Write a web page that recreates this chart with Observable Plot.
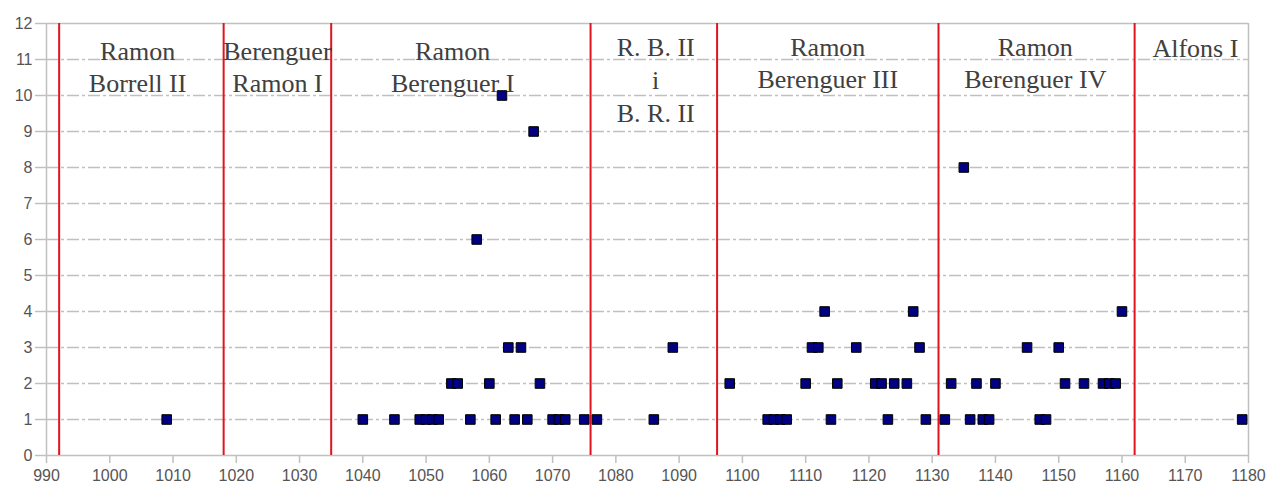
<!DOCTYPE html>
<html>
<head>
<meta charset="utf-8">
<script src="https://cdn.jsdelivr.net/npm/d3@7"></script>
<script src="https://cdn.jsdelivr.net/npm/@observablehq/plot@0.6"></script>
<style>
  html, body { margin: 0; padding: 0; background: #fff; }
  #chart svg { display: block; }
</style>
</head>
<body>
<div id="chart"></div>
<script>
// Years with a given number of documents (value on the y axis)
const yearsWith1 = [1009, 1040, 1045, 1049, 1050, 1051, 1052, 1057, 1061, 1064, 1066, 1070, 1071, 1072, 1075, 1077, 1086,
  1104, 1105, 1106, 1107, 1114, 1123, 1129, 1132, 1136, 1138, 1139, 1147, 1148, 1179];
const yearsWith2 = [1054, 1055, 1060, 1068, 1098, 1110, 1115, 1121, 1122, 1124, 1126, 1133, 1137, 1140, 1151, 1154, 1157, 1158, 1159];
const yearsWith3 = [1063, 1065, 1089, 1111, 1112, 1118, 1128, 1145, 1150];
const yearsWith4 = [1113, 1127, 1160];
const yearsWith6 = [1058];
const yearsWith8 = [1135];
const yearsWith9 = [1067];
const yearsWith10 = [1062];

// Reign boundaries (red lines) and count labels
const reignBoundaries = [992, 1018, 1035, 1076, 1096, 1131, 1162];
const reignNames = ["Ramon\nBorrell II", "Berenguer\nRamon I", "Ramon\nBerenguer I", "R. B. II\ni\nB. R. II",
  "Ramon\nBerenguer III", "Ramon\nBerenguer IV", "Alfons I"];
const reignLabelYears = [1004.4, 1026.5, 1054.2, 1086.3, 1113.5, 1146.3, 1171.6];

// Axis ticks
const xTicks = [990, 1000, 1010, 1020, 1030, 1040, 1050, 1060, 1070, 1080, 1090, 1100, 1110, 1120, 1130, 1140, 1150, 1160, 1170, 1180];
const yTicks = [0, 1, 2, 3, 4, 5, 6, 7, 8, 9, 10, 11, 12];
const gridValues = [1, 2, 3, 4, 5, 6, 7, 8, 9, 10, 11];

const groups = [[1, yearsWith1], [2, yearsWith2], [3, yearsWith3], [4, yearsWith4], [6, yearsWith6], [8, yearsWith8], [9, yearsWith9], [10, yearsWith10]];
const points = groups.flatMap(([n, ys]) => ys.map(year => ({year, n})));
const labels = reignNames.map((name, i) => ({name, year: reignLabelYears[i], i}));

const serif = "'Liberation Serif', 'Times New Roman', serif";
const sans = "'Liberation Sans', Arial, sans-serif";
const textColor = "#404040";
const tickColor = "#555555";
const gridColor = "#c0c0c0";

const labelStyle = {x: "year", y: () => 12, text: "name", fontFamily: serif, fontSize: 26, fill: textColor,
  lineAnchor: "top", lineHeight: 1.23, textAnchor: "middle"};

const chart = Plot.plot({
  width: 1270,
  height: 486,
  marginLeft: 46,
  marginRight: 22,
  marginTop: 23,
  marginBottom: 31,
  style: {background: "#fff", fontFamily: sans},
  x: {domain: [990, 1180]},
  y: {domain: [0, 12]},
  marks: [
    Plot.ruleY(gridValues, {stroke: gridColor, strokeWidth: 1.5, strokeDasharray: "12,3,3,3"}),
    Plot.ruleY([0, 12], {stroke: gridColor, strokeWidth: 1.5}),
    Plot.ruleX([990, 1180], {stroke: gridColor, strokeWidth: 1.5}),
    Plot.axisX({ticks: xTicks, tickSize: 8, tickPadding: 6, stroke: gridColor, strokeWidth: 1.5, fontSize: 16, fill: tickColor, tickFormat: d => String(d), label: null}),
    Plot.axisY({ticks: yTicks, tickSize: 11, tickPadding: 3, stroke: gridColor, strokeWidth: 1.5, fontSize: 16, fill: tickColor, tickFormat: d => String(d), label: null}),
    Plot.ruleX(reignBoundaries, {y1: 0, y2: 12, stroke: "#e0141e", strokeWidth: 2}),
    Plot.text(labels.filter(d => d.i <= 2), {...labelStyle, dy: 13.5}),
    Plot.text(labels.filter(d => d.i === 3), {...labelStyle, lineHeight: 1.28, dy: 8.5}),
    Plot.text(labels.filter(d => d.i === 4 || d.i === 5), {...labelStyle, dy: 10}),
    Plot.text(labels.filter(d => d.i === 6), {...labelStyle, dy: 10.5}),
    Plot.dot(points, {x: "year", y: "n", symbol: "square", r: 5.4, fill: "#000080", stroke: "#000", strokeWidth: 1})
  ]
});
document.getElementById("chart").appendChild(chart);
</script>
</body>
</html>
